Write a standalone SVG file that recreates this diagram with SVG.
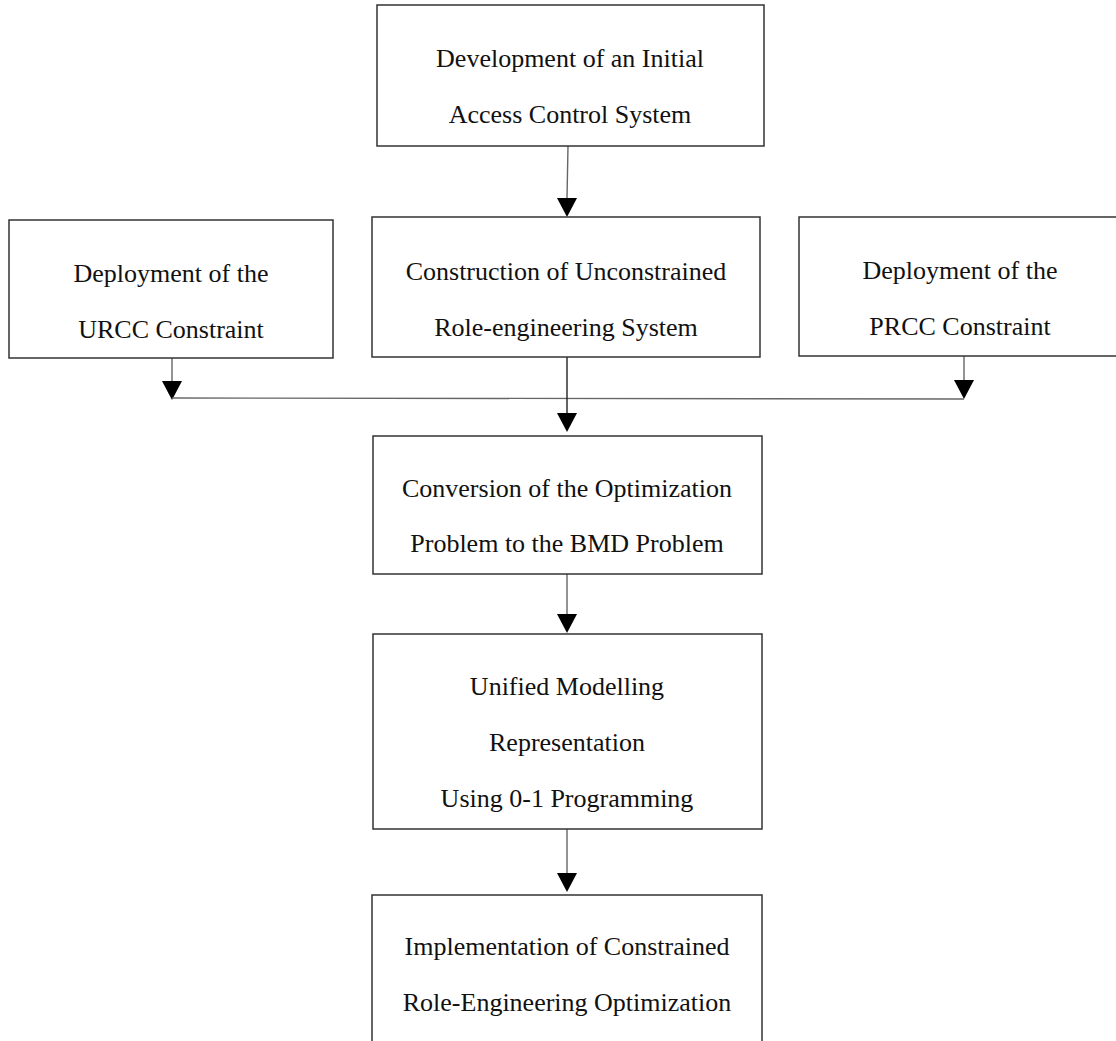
<svg xmlns="http://www.w3.org/2000/svg" width="1116" height="1041" viewBox="0 0 1116 1041">
<defs>
<style>
.box{fill:#fff;stroke:#333;stroke-width:1.5}
.t{font-family:"Liberation Serif","Times New Roman",serif;font-size:26px;fill:#111;text-anchor:middle}
.c{fill:none;stroke:#666;stroke-width:1.4}
</style>
<marker id="ah" viewBox="0 0 20 19" refX="10" refY="19" markerWidth="20" markerHeight="19" markerUnits="userSpaceOnUse" orient="auto-start-reverse">
<path d="M0,0 L20,0 L10,19 Z" fill="#000"/>
</marker>
</defs>
<rect width="1116" height="1041" fill="#fff"/>
<g id="connectors">
<path class="c" d="M568,146 L567,198" />
<path d="M557,198 L577,198 L567,217 Z" fill="#000"/>
<path class="c" d="M172,358 L172,381"/>
<path d="M162,381 L182,381 L172,400 Z" fill="#000"/>
<path class="c" d="M964,356 L964,380"/>
<path d="M954,380 L974,380 L964,399 Z" fill="#000"/>
<path class="c" d="M172,398 L964,399"/>
<path class="c" d="M567,357 L567,413" style="stroke:#222"/>
<path d="M557,413 L577,413 L567,432 Z" fill="#000"/>
<path class="c" d="M567,574 L567,614"/>
<path d="M557,614 L577,614 L567,633 Z" fill="#000"/>
<path class="c" d="M567,829 L567,873"/>
<path d="M557,873 L577,873 L567,892 Z" fill="#000"/>
</g>
<g id="n1">
<rect class="box" x="377" y="5" width="387" height="141"/>
<text class="t" x="570" y="67">Development of an Initial</text>
<text class="t" x="570" y="123">Access Control System</text>
</g>
<g id="n2">
<rect class="box" x="9" y="220" width="324" height="138"/>
<text class="t" x="171" y="282">Deployment of the</text>
<text class="t" x="171" y="338">URCC Constraint</text>
</g>
<g id="n3">
<rect class="box" x="372" y="217" width="388" height="140"/>
<text class="t" x="566" y="280">Construction of Unconstrained</text>
<text class="t" x="566" y="336">Role-engineering System</text>
</g>
<g id="n4">
<rect class="box" x="799" y="217" width="320" height="139"/>
<text class="t" x="960" y="279">Deployment of the</text>
<text class="t" x="960" y="335">PRCC Constraint</text>
</g>
<g id="n5">
<rect class="box" x="373" y="436" width="389" height="138"/>
<text class="t" x="567" y="497">Conversion of the Optimization</text>
<text class="t" x="567" y="552">Problem to the BMD Problem</text>
</g>
<g id="n6">
<rect class="box" x="373" y="634" width="389" height="195"/>
<text class="t" x="567" y="695">Unified Modelling</text>
<text class="t" x="567" y="751">Representation</text>
<text class="t" x="567" y="807">Using 0-1 Programming</text>
</g>
<g id="n7">
<rect class="box" x="372" y="895" width="390" height="160"/>
<text class="t" x="567" y="955">Implementation of Constrained</text>
<text class="t" x="567" y="1011">Role-Engineering Optimization</text>
</g>
</svg>
